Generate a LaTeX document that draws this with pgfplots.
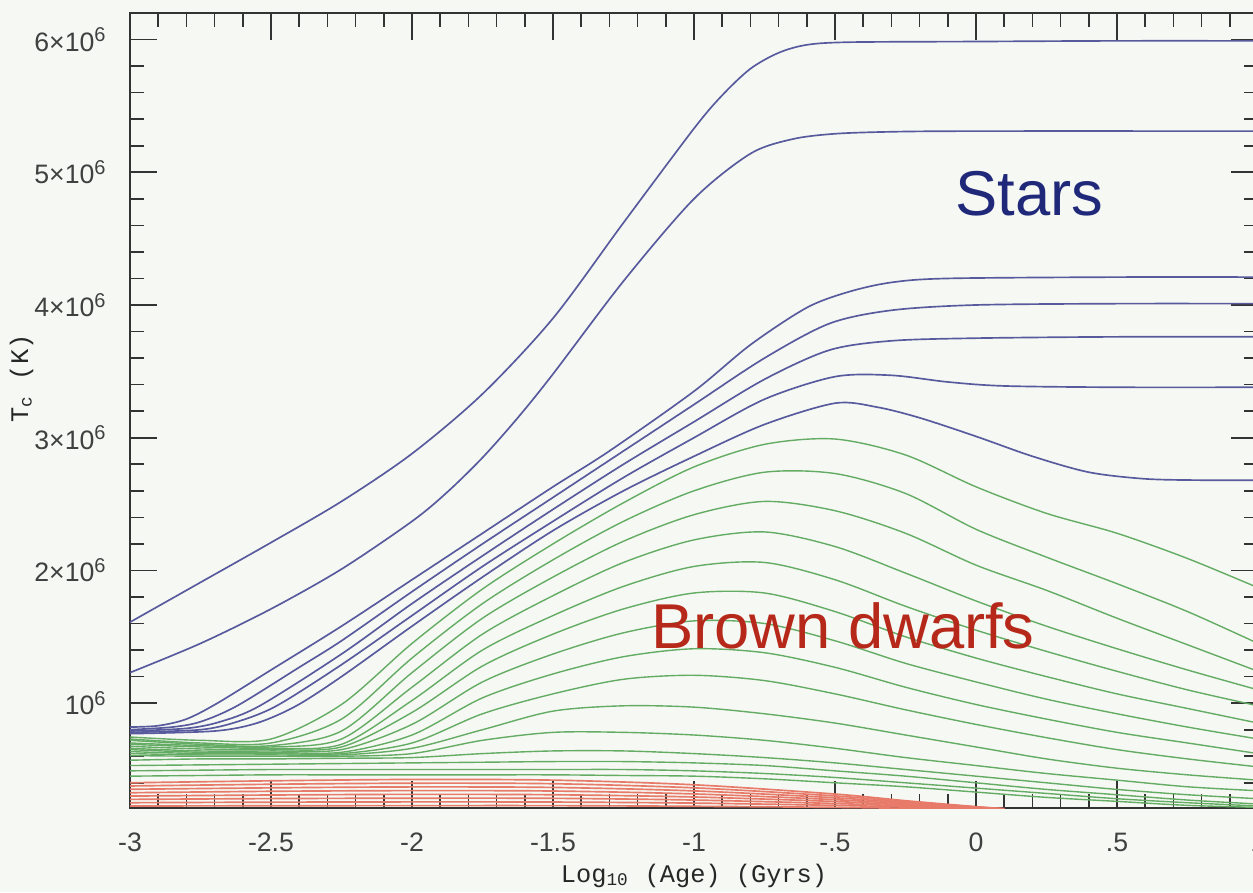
\documentclass[border=0pt]{standalone}
\usepackage{fontspec}
\setmainfont{Liberation Sans}
\newfontfamily\monofont{Liberation Mono}
\usepackage{pgfplots}
\usepackage{pgfplotstable}
\pgfplotsset{compat=1.18}
\usetikzlibrary{backgrounds}
\definecolor{bgc}{RGB}{246,248,243}
\definecolor{bluec}{RGB}{88,90,158}
\definecolor{greenc}{RGB}{100,172,100}
\definecolor{redc}{RGB}{232,122,106}
\definecolor{starc}{RGB}{32,40,122}
\definecolor{bdc}{RGB}{182,40,26}

\pgfplotstableread{
x     G1    G2   G3   G4   G5   G6    G7   G8   G9    G10  G11   G12   G13   G14   G15
-3    0.745 0.73 0.72 0.70 0.69 0.675 0.66 0.65 0.635 0.62 0.605 0.57  0.53  0.49  0.45
-2.75 0.72  0.70 0.69 0.68 0.67 0.655 0.64 0.63 0.62  0.61 0.60  0.58  0.535 0.495 0.455
-2.5  0.73  0.70 0.68 0.67 0.66 0.65  0.64 0.63 0.62  0.61 0.60  0.58  0.54  0.50  0.46
-2.25 0.99  0.88 0.79 0.73 0.69 0.67  0.65 0.63 0.62  0.61 0.60  0.585 0.545 0.50  0.46
-2    1.45  1.34 1.23 1.12 1.02 0.93  0.84 0.76 0.70  0.66 0.62  0.59  0.55  0.50  0.46
-1.75 1.86  1.75 1.64 1.52 1.40 1.28  1.16 1.04 0.92  0.80 0.72  0.62  0.555 0.50  0.46
-1.5  2.20  2.08 1.95 1.81 1.66 1.52  1.37 1.22 1.07  0.94 0.78  0.64  0.56  0.50  0.46
-1.25 2.51  2.37 2.22 2.06 1.88 1.71  1.53 1.35 1.18  0.98 0.78  0.64  0.56  0.50  0.455
-1    2.78  2.60 2.42 2.23 2.03 1.83  1.62 1.41 1.21  0.97 0.76  0.62  0.55  0.49  0.45
-0.75 2.95  2.74 2.52 2.29 2.06 1.83  1.60 1.38 1.17  0.92 0.72  0.59  0.53  0.47  0.43
-0.5  2.99  2.73 2.45 2.18 1.93 1.69  1.47 1.27 1.07  0.85 0.66  0.55  0.49  0.44  0.40
-0.25 2.87  2.58 2.28 1.98 1.73 1.50  1.30 1.12 0.95  0.76 0.59  0.50  0.45  0.40  0.37
0     2.63  2.31 2.04 1.77 1.55 1.34  1.16 0.99 0.84  0.67 0.53  0.45  0.40  0.36  0.33
0.25  2.43  2.10 1.85 1.58 1.39 1.20  1.03 0.88 0.74  0.58 0.47  0.40  0.35  0.32  0.29
0.5   2.28  1.90 1.64 1.41 1.24 1.07  0.92 0.78 0.65  0.51 0.42  0.35  0.31  0.28  0.26
0.75  2.09  1.69 1.44 1.25 1.10 0.96  0.82 0.70 0.58  0.46 0.37  0.31  0.27  0.25  0.23
1     1.87  1.45 1.24 1.10 0.98 0.85  0.73 0.62 0.52  0.42 0.34  0.28  0.24  0.225 0.215
}\greentab

\pgfplotstableread{
x     R1    R2    R3    R4    R5    R6    R7    R8
-3    0.40  0.376 0.351 0.325 0.300 0.275 0.250 0.225
-2.5  0.415 0.389 0.362 0.336 0.308 0.281 0.254 0.227
-2    0.425 0.397 0.369 0.341 0.313 0.284 0.256 0.228
-1.5  0.42  0.393 0.365 0.338 0.310 0.283 0.255 0.228
-1    0.385 0.362 0.339 0.316 0.293 0.270 0.247 0.223
-0.5  0.315 0.301 0.287 0.273 0.259 0.244 0.230 0.215
-0.25 0.265 0.257 0.249 0.241 0.233 0.225 0.217 0.208
0     0.22  0.218 0.216 0.214 0.212 0.210 0.207 0.204
0.1   0.205 0.204 0.204 0.203 0.203 0.202 0.202 0.201
}\redtab

\begin{document}
\begin{tikzpicture}
\begin{axis}[name=ax, scale only axis, width=338.4pt, height=238.5pt,
  xmin=-3, xmax=1, ymin=0.21, ymax=6.2,
  xtick={-3,-2.5,-2,-1.5,-1,-0.5,0,0.5,1},
  xticklabels={-3,-2.5,-2,-1.5,-1,-.5,0,.5,1},
  minor xtick={-2.9,-2.8,...,0.95},
  ytick={1,2,3,4,5,6},
  yticklabels={10\textsuperscript{6},2×10\textsuperscript{6},3×10\textsuperscript{6},4×10\textsuperscript{6},5×10\textsuperscript{6},6×10\textsuperscript{6}},
  minor ytick={0.4,0.6,...,6.1},
  major tick length=8.1pt, minor tick length=4.2pt,
  tick style={line width=0.5pt, color=black!80},
  axis line style={line width=0.45pt, color=black!80},
  tick label style={font=\fontsize{8}{9}\selectfont, text=black!75},
  xticklabel style={yshift=-3.9pt},
  yticklabel style={xshift=-3.3pt},
  xlabel={Log\textsubscript{10} (Age) (Gyrs)},
  ylabel={T\textsubscript{c} (K)},
  xlabel style={at={(rel axis cs:0.5,0)}, anchor=north, inner sep=0pt, yshift=-16.5pt, font=\monofont\fontsize{7.6}{9}\selectfont, text=black!85},
  ylabel style={at={(rel axis cs:-0.085,0.54)}, anchor=south, inner sep=0pt, font=\monofont\fontsize{7.6}{9}\selectfont, text=black!85},
]
\pgfplotsinvokeforeach{1,...,15}{
  \addplot[greenc, line width=0.42pt, smooth] table[x=x, y=G#1] {\greentab};
}
\pgfplotsinvokeforeach{1,...,8}{
  \addplot[redc, line width=0.5pt, smooth] table[x=x, y=R#1] {\redtab};
}
\addplot[bluec, line width=0.5pt, smooth] coordinates {(-3,1.61) (-2.75,1.91) (-2.5,2.21) (-2.25,2.52) (-2.0,2.88) (-1.75,3.33) (-1.5,3.90) (-1.25,4.62) (-1.0,5.33) (-0.9,5.58) (-0.8,5.78) (-0.7,5.9) (-0.6,5.96) (-0.45,5.98) (0,5.985) (0.5,5.99) (1,5.99)};
\addplot[bluec, line width=0.5pt, smooth] coordinates {(-3,1.23) (-2.75,1.45) (-2.5,1.71) (-2.25,2.01) (-2.0,2.37) (-1.875,2.59) (-1.75,2.85) (-1.625,3.15) (-1.5,3.48) (-1.25,4.18) (-1.0,4.8) (-0.8,5.14) (-0.65,5.25) (-0.5,5.29) (-0.3,5.305) (0,5.31) (1,5.31)};
\addplot[bluec, line width=0.5pt, smooth] coordinates {(-3,0.82) (-2.9,0.83) (-2.8,0.88) (-2.69,1.0) (-2.5,1.25) (-2.25,1.58) (-2.0,1.93) (-1.75,2.28) (-1.5,2.63) (-1.3,2.9) (-1.0,3.35) (-0.8,3.7) (-0.6,3.98) (-0.45,4.1) (-0.3,4.17) (-0.1,4.2) (0.5,4.21) (1,4.21)};
\addplot[bluec, line width=0.5pt, smooth] coordinates {(-3,0.80) (-2.85,0.82) (-2.75,0.86) (-2.62,0.98) (-2.4,1.27) (-2.25,1.47) (-2.0,1.84) (-1.75,2.2) (-1.5,2.55) (-1.25,2.9) (-1.0,3.25) (-0.75,3.6) (-0.52,3.86) (-0.3,3.96) (0,4.0) (0.5,4.01) (1,4.01)};
\addplot[bluec, line width=0.5pt, smooth] coordinates {(-3,0.79) (-2.8,0.81) (-2.68,0.86) (-2.54,0.98) (-2.25,1.37) (-2.0,1.75) (-1.75,2.11) (-1.5,2.46) (-1.25,2.8) (-1.0,3.12) (-0.75,3.44) (-0.52,3.66) (-0.3,3.73) (0,3.75) (0.5,3.76) (1,3.76)};
\addplot[bluec, line width=0.5pt, smooth] coordinates {(-3,0.78) (-2.75,0.80) (-2.62,0.86) (-2.48,0.98) (-2.25,1.29) (-2.0,1.66) (-1.75,2.03) (-1.5,2.37) (-1.25,2.7) (-1.0,3.0) (-0.75,3.29) (-0.5,3.46) (-0.3,3.47) (-0.1,3.42) (0.1,3.39) (0.5,3.38) (1,3.38)};
\addplot[bluec, line width=0.5pt, smooth] coordinates {(-3,0.77) (-2.7,0.79) (-2.55,0.85) (-2.41,0.98) (-2.25,1.2) (-2.0,1.58) (-1.75,1.95) (-1.5,2.3) (-1.25,2.6) (-1.0,2.86) (-0.75,3.1) (-0.5,3.26) (-0.35,3.23) (-0.2,3.15) (0,3.01) (0.2,2.86) (0.4,2.74) (0.6,2.69) (0.8,2.68) (1,2.68)};
\node[anchor=base, text=starc, font=\fontsize{19}{19}\selectfont, inner sep=0pt] at (axis cs:0.19,4.675) {Stars};
\node[anchor=base, text=bdc, font=\fontsize{19}{19}\selectfont, inner sep=0pt] at (axis cs:-0.472,1.414) {Brown dwarfs};
\end{axis}
\pgfresetboundingbox
\path[use as bounding box] ([xshift=-39pt,yshift=-25.2pt]ax.south west) rectangle ([xshift=-1.5pt,yshift=3.9pt]ax.north east);
\begin{scope}[on background layer]
\fill[bgc] ([xshift=-39pt,yshift=-25.2pt]ax.south west) rectangle ([xshift=-1.5pt,yshift=3.9pt]ax.north east);
\end{scope}
\end{tikzpicture}
\end{document}
